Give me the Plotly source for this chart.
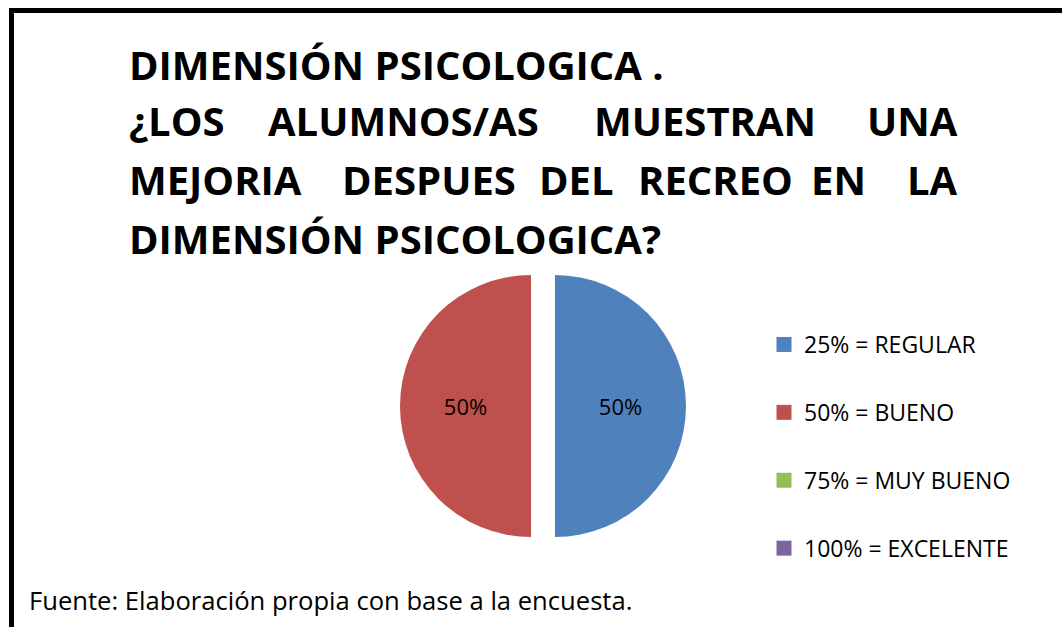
import plotly.graph_objects as go

W, H = 1062, 627

# ---------------- data ----------------
categories = ["25% = REGULAR", "50% = BUENO", "75% = MUY BUENO", "100% = EXCELENTE"]
values = [50, 50, 0, 0]
colors = ["#4F81BD", "#C0504D", "#9BBB59", "#8064A2"]

title_lines = [
    ["DIMENSIÓN PSICOLOGICA ."],
    ["¿LOS", "ALUMNOS/AS", "MUESTRAN", "UNA"],
    ["MEJORIA", "DESPUES", "DEL", "RECREO", "EN", "LA"],
    ["DIMENSIÓN PSICOLOGICA?"],
]
source_text = "Fuente: Elaboración propia con base a la encuesta."

# ---------------- layout helpers (pixel -> paper) ----------------
def px(x):
    return x / W

def py(y):
    return 1 - y / H

FONT = "Open Sans"

fig = go.Figure()

# pie
fig.add_trace(go.Pie(
    labels=categories,
    values=values,
    marker=dict(colors=colors, line=dict(width=0)),
    sort=False,
    direction="clockwise",
    rotation=0,
    pull=[0.0916] * len(values),
    textinfo="percent",
    textposition="inside",
    insidetextorientation="horizontal",
    textfont=dict(family=FONT, size=22, color="black"),
    hoverinfo="skip",
    showlegend=False,
    domain=dict(x=[px(400), px(686)], y=[py(549), py(263)]),
))

# legend entries (built from same category/colour lists)
for i, (cat, col) in enumerate(zip(categories, colors)):
    fig.add_trace(go.Scatter(
        x=[None], y=[None], mode="markers", name=cat,
        marker=dict(symbol="square", size=15, color=col),
        legendgroup=f"g{i}", showlegend=True, hoverinfo="skip",
    ))

# title annotations (justified lines)
line_y = [64, 121, 179.5, 238]
word_x = [
    [(127, "left")],
    [(127, "left"), (403.5, "center"), (705, "center"), (960, "right")],
    [(127, "left"), (428.5, "center"), (576.5, "center"), (715, "center"), (838.5, "center"), (960, "right")],
    [(127, "left")],
]
annotations = []
for words, positions, yy in zip(title_lines, word_x, line_y):
    for w, (xx, anc) in zip(words, positions):
        annotations.append(dict(
            text=w, x=px(xx), y=py(yy), xref="paper", yref="paper",
            xanchor=anc, yanchor="middle", showarrow=False,
            font=dict(family=FONT, size=40, color="black", weight="bold"),
        ))

annotations.append(dict(
    text=source_text, x=px(27), y=py(600), xref="paper", yref="paper",
    xanchor="left", yanchor="middle", showarrow=False,
    font=dict(family=FONT, size=25.6, color="black"),
))

shapes = [
    dict(type="line", xref="paper", yref="paper", x0=px(9), x1=1, y0=py(10.5), y1=py(10.5),
         line=dict(color="black", width=5)),
    dict(type="line", xref="paper", yref="paper", x0=px(11.5), x1=px(11.5), y0=py(8), y1=0,
         line=dict(color="black", width=5)),
]

fig.update_layout(
    width=W, height=H,
    margin=dict(l=0, r=0, t=0, b=0),
    paper_bgcolor="white", plot_bgcolor="white",
    xaxis=dict(visible=False, domain=[0, 0.01]),
    yaxis=dict(visible=False, domain=[0, 0.01]),
    annotations=annotations,
    shapes=shapes,
    showlegend=True,
    legend=dict(
        x=px(764), y=py(323), xanchor="left", yanchor="top",
        font=dict(family=FONT, size=23, color="black"),
        tracegroupgap=35, itemwidth=30, bgcolor="rgba(0,0,0,0)",
    ),
)

fig.write_html(
    "out.html",
    config={"displayModeBar": False},
    post_script="document.body.style.margin='0px';document.body.style.overflow='hidden';",
)
